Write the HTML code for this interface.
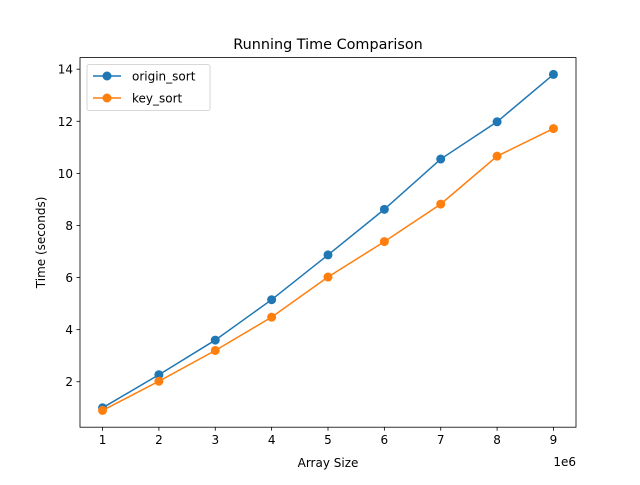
<!DOCTYPE html>
<html><head><meta charset="utf-8"><style>
body{margin:0;background:#fff}
svg text{font-family:"DejaVu Sans","Liberation Sans",sans-serif;fill:#000}
</style></head><body>
<svg id="chart" width="640" height="480" xmlns="http://www.w3.org/2000/svg">
<rect width="640" height="480" fill="#fff"/>
<text x="328" y="49" font-size="14.4" text-anchor="middle">Running Time Comparison</text>
<g id="grid"></g>
<g id="series"></g>
<rect x="80" y="57.6" width="496" height="369.6" fill="none" stroke="#000" stroke-width="0.8"/>
<text x="328" y="467" font-size="12" text-anchor="middle">Array Size</text>
<text x="576" y="466" font-size="12" text-anchor="end">1e6</text>
<text transform="translate(45,242.4) rotate(-90)" font-size="12" text-anchor="middle">Time (seconds)</text>
<g>
<rect x="87" y="64.6" width="123" height="46" rx="2" fill="#fff" fill-opacity="0.8" stroke="#ccc" stroke-width="0.8"/>
<line x1="93" y1="76" x2="121" y2="76" stroke="#1f77b4" stroke-width="1.5"/><circle cx="107" cy="76" r="4.5" fill="#1f77b4"/>
<text x="132" y="80.5" font-size="12">origin_sort</text>
<line x1="93" y1="98" x2="121" y2="98" stroke="#ff7f0e" stroke-width="1.5"/><circle cx="107" cy="98" r="4.5" fill="#ff7f0e"/>
<text x="132" y="102.5" font-size="12">key_sort</text>
</g>
</svg>
<script>
const sizes=[1,2,3,4,5,6,7,8,9];
const originSort=[1.0,2.27,3.6,5.15,6.87,8.62,10.55,11.98,13.8];
const keySort=[0.9,2.02,3.2,4.48,6.02,7.38,8.82,10.66,11.72];
const xTicks=[1,2,3,4,5,6,7,8,9];
const yTicks=[2,4,6,8,10,12,14];
const NS="http://www.w3.org/2000/svg";
const all=originSort.concat(keySort);
const mn=Math.min(...all),mx=Math.max(...all),pad=(mx-mn)*0.05;
const y0=mn-pad,y1=mx+pad;
const xmn=Math.min(...sizes),xmx=Math.max(...sizes),xp=(xmx-xmn)*0.05;
const L=80,R=576,T=57.6,B=427.2;
const X=v=>L+(v-(xmn-xp))/((xmx+xp)-(xmn-xp))*(R-L);
const Y=v=>B-(v-y0)/(y1-y0)*(B-T);
function mk(t,a,p){const e=document.createElementNS(NS,t);for(const k in a)e.setAttribute(k,a[k]);p.appendChild(e);return e;}
const g=document.getElementById('grid');
xTicks.forEach(v=>{const x=X(v);
const l=mk('line',{x1:x,x2:x,y1:B,y2:B+3.5,stroke:'#000','stroke-width':0.8},g);


const t=mk('text',{x:x,y:B+17,'font-size':12,'text-anchor':'middle'},g);t.textContent=v;

});
yTicks.forEach(v=>{const y=Y(v);
const l=mk('line',{x1:L-3.5,x2:L,y1:y,y2:y,stroke:'#000','stroke-width':0.8},g);


const t=mk('text',{x:L-7,y:y+4.5,'font-size':12,'text-anchor':'end'},g);t.textContent=v;

});
const s=document.getElementById('series');
[[originSort,'#1f77b4','origin-sort'],[keySort,'#ff7f0e','key-sort']].forEach(([d,c,n])=>{
const p=mk('polyline',{points:d.map((v,i)=>X(sizes[i])+','+Y(v)).join(' '),fill:'none',stroke:c,'stroke-width':1.5},s);


d.forEach((v,i)=>{const m=mk('circle',{cx:X(sizes[i]),cy:Y(v),r:4.5,fill:c},s);

});
});
</script>
</body></html>
